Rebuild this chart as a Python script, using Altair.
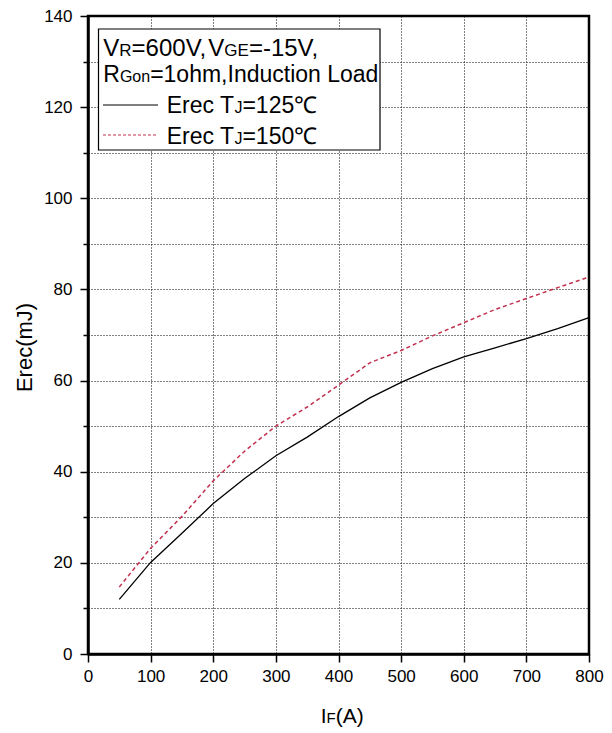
import altair as alt
import pandas as pd

# ---- data ----
i_f = [50, 100, 150, 200, 250, 300, 350, 400, 450, 500, 550, 600, 650, 700, 750, 800]
erec_125 = [12.0, 20.1, 26.5, 33.0, 38.5, 43.5, 47.6, 52.1, 56.2, 59.6, 62.6, 65.2, 67.2, 69.2, 71.4, 73.8]
erec_150 = [14.7, 23.2, 30.2, 38.0, 44.5, 50.0, 54.2, 59.0, 63.9, 66.6, 69.8, 72.7, 75.6, 78.0, 80.4, 82.7]
x_ticks = list(range(0, 801, 50))
y_ticks = list(range(0, 141, 10))

RED = "#c4314f"
FONT = "Liberation Sans"
W, H = 501, 638
LEFT, TOP = 88, 16

df = pd.DataFrame({"IF": i_f, "E125": erec_125, "E150": erec_150})

grid_kw = dict(grid=True, gridColor="#000000", gridDash=[1, 2], gridWidth=1, gridOpacity=1,
               domainColor="#000000", domainWidth=2.5, tickColor="#000000", tickWidth=1.5,
               labelFont=FONT, labelFontSize=17, labelColor="#000000", title=None)

x_axis = alt.Axis(values=x_ticks, labelExpr="datum.value % 100 == 0 ? datum.label : ''",
                  tickSize={"condition": {"test": "datum.value % 100 == 0", "value": 8}, "value": 5},
                  labelPadding=6, labelFlush=False, **grid_kw)
y_axis = alt.Axis(values=y_ticks, labelExpr="datum.value % 20 == 0 ? datum.label : ''",
                  tickSize={"condition": {"test": "datum.value % 20 == 0", "value": 8}, "value": 5},
                  labelPadding=8, labelFlush=False, **grid_kw)

xs = alt.Scale(domain=[0, 800], nice=False)
ys = alt.Scale(domain=[0, 140], nice=False)

base = alt.Chart(df)
line125 = base.mark_line(color="#000000", strokeWidth=1.3).encode(
    x=alt.X("IF:Q", scale=xs, axis=x_axis),
    y=alt.Y("E125:Q", scale=ys, axis=y_axis),
)
line150 = base.mark_line(color=RED, strokeWidth=1.5, strokeDash=[4, 3]).encode(
    x=alt.X("IF:Q", scale=xs),
    y=alt.Y("E150:Q", scale=ys),
)

one = alt.Data(values=[{}])

# approximate Arial / Liberation Sans advance widths (em)
ADV = {"V": .667, "R": .722, "=": .584, "0": .556, "1": .556, "2": .556, "5": .556, "6": .556,
       ",": .278, "G": .778, "E": .667, "-": .333, "o": .556, "n": .556, "h": .556, "m": .833,
       "I": .278, "d": .556, "u": .556, "c": .5, "t": .278, "i": .222, " ": .278, "L": .556,
       "a": .556, "r": .333, "e": .556, "T": .611, "J": .5, "F": .611, "(": .333, "A": .667,
       ")": .333}


def width(s, size):
    return sum(ADV.get(ch, 0.6) for ch in s) * size


def px(v):
    return alt.value(v - LEFT)


def py(v):
    return alt.value(v - TOP)


def txt(s, x, y, size=23, angle=None):
    kw = dict(text=s, font=FONT, fontSize=size, color="#000000", align="left", baseline="alphabetic")
    if angle is not None:
        kw.update(angle=angle, align="center")
    return alt.Chart(one).mark_text(**kw).encode(x=px(x), y=py(y))


def run(pieces, x, y):
    """pieces: list of (text, size) laid out one after another."""
    out = []
    for s, size in pieces:
        out.append(txt(s, x, y, size))
        x += width(s, size)
    return out


legend_box = alt.Chart(one).mark_rect(fill="white", stroke="#000000", strokeWidth=1.2).encode(
    x=px(98.5), x2=px(380), y=py(29), y2=py(150))
leg_line1 = alt.Chart(one).mark_rule(color="#000000", strokeWidth=1.2).encode(
    x=px(103), x2=px(158), y=py(105))
leg_line2 = alt.Chart(one).mark_rule(color=RED, strokeWidth=1.2, strokeDash=[3, 2]).encode(
    x=px(103), x2=px(158), y=py(135))

BIG, SUB = 24, 17
texts = []
texts += run([("V", BIG), ("R", SUB), ("=600V,", BIG), ("V", BIG), ("GE", SUB), ("=-15V,", BIG)], 103.3, 55.7)
texts += run([("R", 23), ("Gon", 16), ("=1ohm,Induction Load", 23)], 103.3, 81.7)
texts += run([("Erec T", 23), ("J", 16), ("=125\u2103", 23)], 166.7, 113.3)
texts += run([("Erec T", 23), ("J", 16), ("=150\u2103", 23)], 166.7, 144.3)
texts += [txt("Erec(mJ)", 31.7, 347.5, 22, angle=270)]
texts += run([("I", 21), ("F", 15), ("(A)", 21)], 320.7, 723)

chart = alt.layer(line125, line150, legend_box, leg_line1, leg_line2, *texts).properties(
    width=W, height=H,
    autosize=alt.AutoSizeParams(type="none"),
    padding={"left": LEFT, "top": TOP, "right": 612 - LEFT - W, "bottom": 733 - TOP - H},
    background="white",
).configure_view(stroke="#000000", strokeWidth=2.5)

chart.save("out.html", embed_options={"renderer": "svg", "actions": False})
